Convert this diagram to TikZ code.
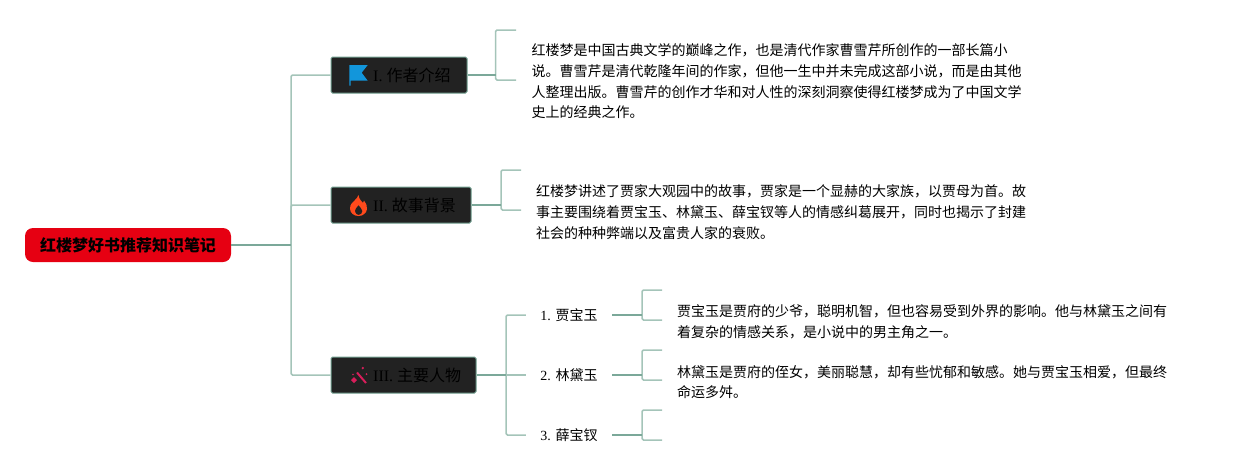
\documentclass[tikz,border=0pt]{standalone}
\usepackage{fontspec}
\setmainfont{Liberation Serif}
\newfontfamily\cjk{Noto Sans CJK SC}
\definecolor{rootred}{HTML}{E60012}
\definecolor{nodegreen}{HTML}{6F9E8F}
\definecolor{nodedark}{HTML}{222222}
\definecolor{linedark}{HTML}{7BA899}
\definecolor{linelight}{HTML}{A4C4B9}
\definecolor{flagblue}{HTML}{1296DB}
\definecolor{flameorange}{HTML}{FF4A1C}
\definecolor{wandred}{HTML}{D81E5B}
\begin{document}
\begin{tikzpicture}[x=1pt,y=-1pt,
  rootbox/.style={draw=none,fill=rootred,rounded corners=8pt,minimum width=206pt,minimum height=34pt,inner sep=0pt,text=black,font=\fontsize{16}{18}\selectfont\cjk\bfseries},
  branch/.style={draw=nodegreen,line width=1pt,fill=nodedark,rounded corners=1.5pt,minimum height=36pt,inner sep=0pt},
  branchtext/.style={anchor=west,inner sep=0pt,text=black,font=\fontsize{16}{18}\selectfont},
  subbox/.style={minimum width=86pt,minimum height=20pt,inner sep=0pt,text=black,font=\fontsize{14}{18}\selectfont},
  para/.style={anchor=west,inner sep=0pt,align=left,text=black,font=\fontsize{14}{20.7}\selectfont\cjk},
  darkline/.style={draw=linedark,line width=1.6pt},
  lightline/.style={draw=linelight,line width=1.5pt,rounded corners=1.5pt},
]
\useasboundingbox (0,0) rectangle (1237,475);
\node[rootbox] (root) at (128,245) {红楼梦好书推荐知识笔记};
\node[branch,minimum width=136pt] (n1) at (399,75) {};
\node[branch,minimum width=140pt] (n2) at (401,205) {};
\node[branch,minimum width=145pt] (n3) at (403.5,375) {};
\node[branchtext] (n1t) at (373,75.5) {I. {\cjk 作者介绍}};
\node[branchtext] (n2t) at (373,205.5) {II. {\cjk 故事背景}};
\node[branchtext] (n3t) at (373,375.5) {III. {\cjk 主要人物}};
\node[subbox] (s1) at (569,315) {\raisebox{-1pt}{1. {\cjk 贾宝玉}}};
\node[subbox] (s2) at (569,375) {\raisebox{-1pt}{2. {\cjk 林黛玉}}};
\node[subbox] (s3) at (569,435) {\raisebox{-1pt}{3. {\cjk 薛宝钗}}};
\node[para] (p1) at (531.5,81.5) {红楼梦是中国古典文学的巅峰之作，也是清代作家曹雪芹所创作的一部长篇小\\说。曹雪芹是清代乾隆年间的作家，但他一生中并未完成这部小说，而是由其他\\人整理出版。曹雪芹的创作才华和对人性的深刻洞察使得红楼梦成为了中国文学\\史上的经典之作。};
\node[para] (p2) at (536,212) {红楼梦讲述了贾家大观园中的故事，贾家是一个显赫的大家族，以贾母为首。故\\事主要围绕着贾宝玉、林黛玉、薛宝钗等人的情感纠葛展开，同时也揭示了封建\\社会的种种弊端以及富贵人家的衰败。};
\node[para] (p3) at (677,322) {贾宝玉是贾府的少爷，聪明机智，但也容易受到外界的影响。他与林黛玉之间有\\着复杂的情感关系，是小说中的男主角之一。};
\node[para] (p4) at (677,382) {林黛玉是贾府的侄女，美丽聪慧，却有些忧郁和敏感。她与贾宝玉相爱，但最终\\命运多舛。};
% junction points
\coordinate (t0) at (291,245);
\coordinate (b1) at (495.5,75); \coordinate (b1a) at (516,30); \coordinate (b1b) at (516,80);
\coordinate (b2) at (501,205); \coordinate (b2a) at (521,170); \coordinate (b2b) at (521,210);
\coordinate (b3) at (506,375);
\coordinate (c1) at (642,315); \coordinate (c1a) at (662,290); \coordinate (c1b) at (662,320);
\coordinate (c2) at (642,375); \coordinate (c2a) at (662,350); \coordinate (c2b) at (662,380);
\coordinate (c3) at (642,435); \coordinate (c3a) at (662,410); \coordinate (c3b) at (662,440);
% trunk
\draw[lightline] (n1.west) -| (t0) |- (n3.west);
\draw[lightline] (t0) |- (n2.west);
\draw[darkline] (root.east) -- (t0);
% brackets
\draw[lightline] (b1a) -| (b1) |- (b1b);
\draw[darkline] (n1.east) -- (b1);
\draw[lightline] (b2a) -| (b2) |- (b2b);
\draw[darkline] (n2.east) -- (b2);
\draw[lightline] (s1.west) -| (b3) |- (s3.west);
\draw[lightline] (b3) -- (s2.west);
\draw[darkline] (n3.east) -- (b3);
\draw[lightline] (c1a) -| (c1) |- (c1b);
\draw[darkline] (s1.east) -- (c1);
\draw[lightline] (c2a) -| (c2) |- (c2b);
\draw[darkline] (s2.east) -- (c2);
\draw[lightline] (c3a) -| (c3) |- (c3b);
\draw[darkline] (s3.east) -- (c3);
% flag icon
\fill[flagblue] (349.3,65) -- (367.7,65) -- (361.7,72.7) -- (367.7,80.7) -- (350.7,80.7) -- (350.7,85.7) -- (349.3,85.7) -- cycle;
% flame icon
\fill[flameorange,even odd rule] (358.5,195) .. controls (359,200) and (362,201) .. (363,203) .. controls (363.5,202) and (364,201.5) .. (364,200.5) .. controls (366,203) and (367.5,206) .. (367,209) .. controls (366.5,213.5) and (362.5,216) .. (358.5,216) .. controls (354,216) and (350,213) .. (350,208.5) .. controls (350,204) and (353,202) .. (355,200) .. controls (356.5,198.5) and (358,197) .. (358.5,195) -- cycle
 (358.5,205) .. controls (357,207.5) and (354.5,209) .. (354.8,211) .. controls (355,213.5) and (357,215) .. (358.5,215) .. controls (360.5,215) and (362.5,213.5) .. (362.5,211) .. controls (362.5,209) and (360,207.5) .. (358.5,205) -- cycle;
% wand icon
\draw[wandred,line width=2pt] (357,372.5) -- (366,383);
\fill[wandred] (351,380) -- (354,377) -- (357,380) -- (354,383) -- cycle;
\fill[wandred] (361.5,368) -- (362.8,366.7) -- (364.1,368) -- (362.8,369.3) -- cycle;
\fill[wandred] (365.5,374) -- (366.5,373) -- (367.5,374) -- (366.5,375) -- cycle;
\fill[wandred] (353,374.5) circle (0.9);
\end{tikzpicture}
\end{document}
